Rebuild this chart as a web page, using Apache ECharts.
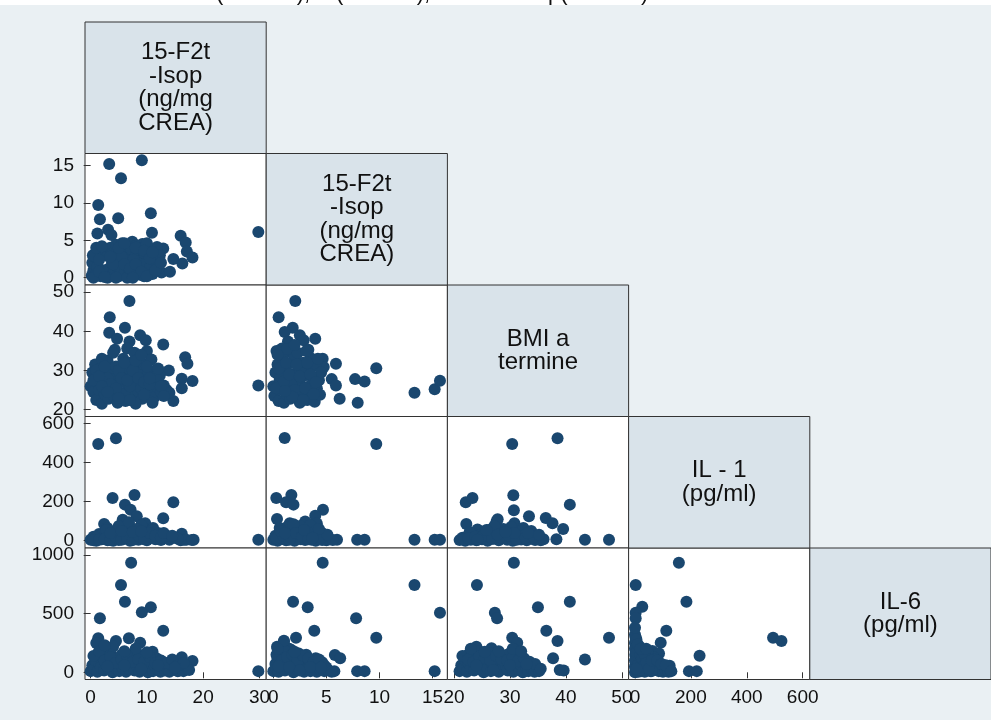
<!DOCTYPE html>
<html><head><meta charset="utf-8">
<script src="https://cdn.jsdelivr.net/npm/echarts@6/dist/echarts.min.js"></script>
<style>html,body{margin:0;padding:0;background:#eaf0f3}#c{width:991px;height:720px}</style>
</head><body><div id="c"></div>
<script>
// ---- variable labels (diagonal) ----
const varLabels = ['15-F2t\n-Isop\n(ng/mg\nCREA)', '15-F2t\n-Isop\n(ng/mg\nCREA)', 'BMI a\ntermine', 'IL - 1\n(pg/ml)', 'IL-6\n(pg/ml)'];
// ---- tick labels per variable ----
const ticksVar1 = [0, 10, 20, 30];
const ticksVar2 = [0, 5, 10, 15];
const ticksBMI = [20, 30, 40, 50];
const ticksIL1 = [0, 200, 400, 600];
const ticksIL6 = [0, 500, 1000];
// ---- axis ranges per variable (as columns / as rows) ----
const colRanges = [[-1.0, 31.2], [-0.67, 16.4], [18.82, 51.2], [-22.9, 625.4]];
const rowRanges = [null, [-0.98, 16.6], [18.27, 51.8], [-37.4, 636.9], [-61.4, 1059.7]];

// ---- scatter data: [x, y] per panel ----
const var1_var2 = [[3.3,15.2],[9.1,15.7],[5.4,13.3],[1.35,9.7],[1.65,7.8],[4.9,7.95],[10.7,8.6],[1.2,5.9],[3.1,6.4],[3.7,5.7],[10.9,6.0],[29.8,6.1],[16.0,5.6],[16.9,4.7],[17.1,3.5],[18.1,2.7],[16.3,1.9],[14.7,2.5],[12.9,3.9],[12.6,0.7],[14.1,0.8],[11.1,1.7],
[0.2,0.3],[0.5,1.0],[0.3,2.0],[0.8,2.8],[1.0,0.5],[1.2,1.5],[1.5,3.2],[1.8,0.2],[2.2,1.0],[2.5,3.8],[2.8,0.4],[3.0,2.9],[3.2,1.2],[3.5,4.0],[3.6,0.3],[3.8,2.0],[4.0,3.3],[4.2,0.8],[4.5,4.4],[4.6,1.6],[4.8,2.6],[5.0,0.2],[5.2,3.6],[5.4,1.1],[5.6,4.6],[5.8,2.2],[6.0,0.5],[6.2,3.0],[6.4,4.2],[6.6,1.4],[6.8,2.6],[7.0,0.3],[7.2,3.8],[7.4,4.8],[7.5,1.9],[7.8,0.8],[8.0,2.9],[8.2,4.3],[8.4,1.3],[8.6,3.5],[8.8,0.4],[9.0,2.3],[9.2,4.5],[9.4,1.0],[9.6,3.2],[9.8,0.6],[10.0,2.0],[10.2,4.0],[10.5,1.3],[10.8,3.0],[11.0,0.5],[11.3,2.4],[11.6,3.8],[12.0,1.2],[11.8,4.1],[6.5,0.0],[3.0,0.0],[9.5,0.2],[0.4,3.0],[1.0,4.0],[5.5,2.8],[7.6,2.4],[8.8,3.9],[10.0,4.6],[12.3,3.0],
[0.5,0.0],[1.5,0.8],[2.5,0.1],[4.0,1.8],[6.0,1.8],[7.0,1.2],[8.0,1.8],[9.0,0.8],[10.0,0.2],[11.5,1.0],[5.0,4.0],[6.0,4.6],[8.0,4.0],[3.5,2.8],[9.5,3.6],[1.5,2.4],[2.0,4.2],[4.5,0.0],[7.5,0.0],[10.5,2.6],[11.0,3.4],[12.5,2.0]];

const var1_bmi = [[6.9,47.7],[3.4,43.6],[3.3,39.6],[6.1,40.9],[4.7,38.1],[8.8,39.0],[9.8,37.7],[6.9,37.4],[4.3,35.3],[6.5,35.6],[12.9,36.6],[16.8,33.4],[17.2,31.7],[13.9,30.0],[18.1,27.3],[16.2,27.9],[16.2,25.5],[14.7,22.2],[29.8,26.2],[12.3,28.8],
[0.0,26.0],[0.3,29.5],[0.5,24.5],[0.8,31.5],[1.0,22.5],[1.2,27.5],[1.5,25.0],[1.8,30.5],[2.0,21.5],[2.2,28.5],[2.5,24.0],[2.8,26.5],[3.0,32.5],[3.2,22.8],[3.5,29.8],[3.8,25.5],[4.0,27.8],[4.2,23.3],[4.5,31.0],[4.8,21.8],[5.0,26.8],[5.2,29.0],[5.5,24.2],[5.8,33.0],[6.0,27.0],[6.2,22.2],[6.5,30.2],[6.8,25.2],[7.0,32.0],[7.2,28.2],[7.5,23.5],[7.8,34.5],[8.0,26.0],[8.2,30.8],[8.5,24.8],[8.8,33.5],[9.0,28.8],[9.2,22.8],[9.5,31.5],[9.8,26.5],[10.0,35.0],[10.2,29.5],[10.5,24.0],[10.8,32.8],[11.0,27.3],[11.3,23.2],[11.5,30.0],[11.8,25.8],[12.0,28.3],[12.5,24.5],[13.0,26.2],[13.5,25.0],[14.0,24.3],[4.0,34.5],[2.0,33.0],[6.0,24.0],[8.0,21.5],[11.0,21.8],[1.0,30.0],[0.5,27.5],[7.0,26.0],[9.0,25.5],[5.0,30.0],[3.0,28.0],
[1.5,28.5],[2.5,31.0],[3.5,26.5],[4.5,25.5],[5.5,28.0],[6.5,27.5],[7.5,30.0],[8.5,28.0],[9.5,27.0],[10.5,26.5],[11.5,28.5],[12.5,26.0],[2.0,26.0],[6.0,32.0],[8.0,32.5],[9.0,34.0],[10.0,31.0],[3.0,24.5],[5.0,23.0],[7.0,22.5],[9.5,23.8],[10.5,28.0],[12.0,30.5],[13.0,23.5]];

const var2_bmi = [[2.07,47.7],[0.5,43.6],[1.83,40.9],[1.07,39.8],[2.5,39.0],[2.86,37.7],[3.95,38.1],[1.38,37.4],[0.82,35.6],[1.6,34.8],[3.3,35.3],[4.65,33.0],[4.75,30.9],[5.9,31.7],[9.7,30.6],[7.7,27.8],[8.6,27.2],[5.5,27.8],[5.9,26.2],[6.25,22.8],[7.95,21.8],[13.3,24.3],[15.2,25.2],[15.7,27.4],
[0.0,26.0],[0.2,29.5],[0.1,23.5],[0.4,31.5],[0.5,22.2],[0.6,27.8],[0.8,25.0],[0.9,33.0],[1.0,21.8],[1.1,29.8],[1.2,24.0],[1.4,27.0],[1.5,31.8],[1.6,22.8],[1.8,29.0],[1.9,25.5],[2.0,33.5],[2.1,27.5],[2.2,23.5],[2.4,30.5],[2.5,21.8],[2.6,26.3],[2.8,32.0],[2.9,24.8],[3.0,28.8],[3.2,22.5],[3.3,30.8],[3.4,26.0],[3.5,33.2],[3.6,24.0],[3.8,28.0],[3.9,22.0],[4.0,31.2],[4.1,25.5],[4.3,27.5],[4.4,23.8],[4.5,29.5],[0.3,35.0],[1.3,35.5],[2.3,34.5],[0.7,28.5],[1.7,26.5],[2.7,29.3],[3.7,26.8],
[0.3,25.5],[1.0,27.2],[1.5,29.0],[2.0,25.0],[2.5,28.5],[3.0,25.5],[3.5,29.0],[4.0,27.0],[0.5,30.5],[1.2,32.0],[2.2,31.5],[3.2,32.0],[4.2,33.0],[1.8,23.3],[2.8,22.5],[3.8,24.0],[0.4,34.0],[1.1,24.8],[2.0,36.5],[3.1,35.0]];

const var1_il1 = [[1.35,496],[4.5,525],[3.9,219],[7.8,234],[6.1,185],[7.1,159],[8.2,125],[14.7,197],[12.9,115],[5.7,108],[2.4,86],[9.7,90],[11.1,65],[16.2,36],[29.8,5],[18.3,5],[16.6,5],[13.8,20],
[0.0,5],[0.5,20],[1.0,0],[1.5,35],[2.0,8],[2.5,45],[3.0,2],[3.5,25],[4.0,12],[4.5,50],[5.0,3],[5.5,30],[6.0,10],[6.5,55],[7.0,0],[7.5,20],[8.0,40],[8.5,5],[9.0,28],[9.5,60],[10.0,2],[10.5,15],[11.0,35],[11.5,8],[12.0,20],[12.5,3],[13.0,12],[14.0,5],[15.0,15],[16.0,2],[17.0,5],[18.0,3],[3.0,65],[5.0,75],[2.0,30],[7.0,70],[9.0,80],[4.0,0],[6.0,35],[8.0,15],[10.0,45],[12.0,40],[11.0,55],[13.5,25],[15.5,10],[1.0,15],[2.8,55],[6.8,95],[8.2,60],
[0.5,2],[1.5,5],[2.5,10],[3.5,3],[4.5,18],[5.5,5],[6.5,15],[7.5,3],[8.5,25],[9.5,8],[10.5,40],[11.5,25],[12.5,18],[13.0,40],[14.5,25],[3.5,40],[5.5,50],[7.5,45],[9.0,48]];

const var2_il1 = [[1.07,527],[9.7,496],[0.28,219],[1.7,234],[1.2,197],[1.9,185],[4.68,159],[3.95,128],[3.0,99],[0.35,111],[1.55,90],[4.1,88],[4.6,40],[6.0,5],[7.9,5],[8.6,5],[13.3,5],[15.2,5],[15.7,5],
[0.0,5],[0.2,25],[0.4,0],[0.6,40],[0.8,10],[1.0,55],[1.2,2],[1.4,30],[1.6,15],[1.8,45],[2.0,0],[2.2,20],[2.4,60],[2.6,8],[2.8,35],[3.0,3],[3.2,50],[3.4,18],[3.6,5],[3.8,30],[4.0,0],[4.2,12],[4.4,40],[4.6,3],[4.8,20],[5.0,2],[5.3,8],[5.6,4],[1.3,70],[2.5,75],[0.6,65],[3.5,80],[1.9,85],
[0.3,12],[0.9,28],[1.5,5],[2.1,40],[2.7,22],[3.3,8],[3.9,45],[4.5,15],[5.1,30],[0.7,50],[2.9,55],[4.3,60],[1.1,38],[3.7,15]];

const bmi_il1 = [[30.4,496],[38.5,525],[30.6,233],[22.1,197],[23.3,219],[40.7,185],[30.7,156],[33.4,125],[36.4,116],[37.6,90],[39.5,60],[22.2,86],[27.6,99],[27.8,110],[30.8,90],[24.2,58],[32.4,65],[43.4,5],[47.7,5],[38.3,8],
[21.0,3],[21.5,15],[22.0,0],[22.5,25],[23.0,5],[23.5,35],[24.0,2],[24.5,18],[25.0,8],[25.5,40],[26.0,0],[26.5,22],[27.0,10],[27.5,45],[28.0,2],[28.5,30],[29.0,12],[29.5,5],[30.0,38],[30.5,0],[31.0,20],[31.5,50],[32.0,6],[32.5,28],[33.0,2],[33.5,15],[34.0,35],[34.5,4],[35.0,10],[35.5,2],[36.0,8],[22.8,45],[26.2,55],[28.8,60],[33.8,50],[24.8,30],[30.2,70],[27.2,75],
[21.8,8],[22.6,12],[23.8,20],[25.2,25],[26.8,10],[28.2,18],[29.8,25],[31.2,5],[32.8,15],[34.2,20],[35.2,30],[24.2,5],[27.8,30],[30.8,40],[33.2,40],[25.8,55],[29.2,45]];

const var1_il6 = [[7.2,934],[5.4,744],[6.1,602],[10.7,554],[9.1,511],[1.65,460],[12.9,355],[1.35,290],[6.8,290],[4.5,267],[8.8,252],[3.1,199],[1.35,162],[8.0,162],[11.0,176],[16.2,128],[18.1,97],[12.4,100],[14.7,65],[29.8,10],
[0.0,10],[0.3,60],[0.6,30],[0.9,100],[1.2,5],[1.5,80],[1.8,40],[2.1,130],[2.4,15],[2.7,70],[3.0,110],[3.3,25],[3.6,55],[3.9,0],[4.2,90],[4.5,35],[4.8,120],[5.1,10],[5.4,65],[5.7,40],[6.0,100],[6.3,5],[6.6,80],[6.9,25],[7.2,130],[7.5,50],[7.8,15],[8.1,95],[8.4,35],[8.7,5],[9.0,70],[9.3,120],[9.6,20],[9.9,60],[10.2,0],[10.5,90],[10.8,30],[11.1,10],[11.4,55],[11.7,120],[12.0,20],[12.4,5],[12.8,45],[13.2,15],[13.6,30],[14.0,5],[14.5,60],[15.0,20],[15.5,8],[16.0,35],[16.5,10],[17.0,50],[17.5,20],[2.0,200],[3.5,170],[5.5,150],[7.5,140],[9.5,150],[1.0,250],[4.0,220],[8.0,200],
[0.5,140],[1.5,180],[2.5,100],[3.5,130],[4.5,80],[5.5,110],[6.5,140],[7.5,90],[8.5,110],[9.5,90],[10.5,130],[11.5,80],[12.5,100],[13.5,80],[14.5,110],[15.5,60],[16.5,80],[3.0,50],[6.0,60],[9.0,30],[12.0,60],[15.0,40],[2.5,230],[6.0,180],[10.0,170]];

const var2_il6 = [[4.65,934],[13.3,744],[1.86,602],[3.24,554],[15.7,508],[7.8,460],[3.86,355],[9.7,295],[2.14,295],[1.0,261],[0.35,218],[5.8,147],[6.3,119],[1.7,190],[3.1,150],[7.9,10],[8.6,10],[15.2,10],[5.75,10],
[0.0,10],[0.2,70],[0.3,30],[0.4,120],[0.5,5],[0.7,90],[0.8,45],[1.0,140],[1.1,15],[1.3,65],[1.4,110],[1.6,25],[1.7,85],[1.9,0],[2.0,50],[2.2,130],[2.3,20],[2.5,75],[2.6,40],[2.8,110],[2.9,5],[3.1,60],[3.2,30],[3.4,100],[3.5,10],[3.7,70],[3.8,45],[4.0,120],[4.1,5],[4.3,55],[4.4,25],[4.6,85],[4.8,10],[5.0,40],[5.2,15],[5.5,5],[0.6,170],[1.5,200],[2.4,160],[0.9,230],[1.2,180],
[0.3,150],[0.8,100],[1.3,130],[1.8,150],[2.3,100],[2.8,140],[3.3,120],[3.8,90],[4.3,110],[4.8,60],[0.5,50],[1.5,45],[2.5,15],[3.5,45],[4.5,40],[1.0,270],[0.4,200],[2.0,175]];

const bmi_il6 = [[30.7,934],[24.1,744],[40.7,602],[35.0,554],[27.3,508],[27.7,460],[36.5,355],[47.7,295],[30.4,295],[31.3,252],[38.5,267],[24.0,218],[26.7,205],[37.7,120],[43.4,110],[38.9,20],[39.6,15],[27.8,170],[30.2,170],[31.6,160],
[21.0,10],[21.3,60],[21.6,30],[22.0,100],[22.3,5],[22.6,80],[23.0,40],[23.3,130],[23.6,15],[24.0,70],[24.3,110],[24.6,25],[25.0,55],[25.3,0],[25.6,90],[26.0,35],[26.3,120],[26.6,10],[27.0,65],[27.3,40],[27.6,100],[28.0,5],[28.3,80],[28.6,25],[29.0,130],[29.3,50],[29.6,15],[30.0,95],[30.3,35],[30.6,5],[31.0,70],[31.3,120],[31.6,20],[32.0,60],[32.3,0],[32.6,90],[33.0,30],[33.3,10],[33.6,55],[34.0,20],[34.4,5],[34.8,40],[35.2,10],[22.5,150],[23.5,170],[26.5,160],[29.5,150],[31.5,140],[24.5,180],
[21.5,140],[22.5,110],[23.5,90],[24.5,140],[25.5,120],[26.5,100],[27.5,140],[28.5,110],[29.5,100],[30.5,130],[31.5,100],[32.5,120],[33.5,90],[34.5,70],[23.0,200],[25.5,175],[28.0,180],[30.5,200],[32.0,180],[24.0,60],[27.0,20],[30.0,60],[33.0,70],[35.5,30]];

const il1_il6 = [[157,934],[2.5,744],[184,602],[26,559],[2.5,508],[2.5,460],[112,355],[2.5,295],[494,295],[524,267],[92,252],[231,142],[193,10],[221,10],[124,55],[62,182],[86,160],[84,90],
[0,0],[2,40],[4,90],[1,150],[3,200],[0,250],[6,20],[8,60],[10,120],[12,5],[14,80],[16,170],[18,30],[20,100],[22,10],[25,60],[28,140],[30,20],[32,90],[35,5],[38,50],[40,120],[42,15],[45,70],[48,35],[50,100],[55,10],[60,50],[65,130],[70,20],[75,80],[80,40],[85,10],[90,60],[95,25],[100,5],[105,45],[110,15],[115,30],[120,5],[125,20],[5,130],[15,220],[0,320],[30,190],[45,160],[60,10],[70,110],
[0,50],[0,100],[0,200],[5,170],[10,60],[15,20],[20,150],[25,120],[30,50],[35,150],[40,80],[50,30],[60,100],[80,100],[95,70],[110,60],[5,280],[10,240],[20,200],[40,200],[0,380],[5,30],[130,10]];

const colTicks = [ticksVar1, ticksVar2, ticksBMI, ticksIL1];
const rowTicks = [null, ticksVar2, ticksBMI, ticksIL1, ticksIL6];
const panels = [
  {r:1, c:0, data: var1_var2},
  {r:2, c:0, data: var1_bmi}, {r:2, c:1, data: var2_bmi},
  {r:3, c:0, data: var1_il1}, {r:3, c:1, data: var2_il1}, {r:3, c:2, data: bmi_il1},
  {r:4, c:0, data: var1_il6}, {r:4, c:1, data: var2_il6}, {r:4, c:2, data: bmi_il6}, {r:4, c:3, data: il1_il6}
];

// ---- layout ----
const X0 = 85, CW = 181.2, Y0 = 22, CH = 131.5;
const FONT = 'Arial, "Liberation Sans", sans-serif';
const BG = '#eaf0f3', DIAG = '#d9e3ea', MARK = '#1a476f', LINE = '#333333';

const grids = [], xAxes = [], yAxes = [], series = [];
panels.forEach((p, i) => {
  grids.push({left: X0 + p.c * CW, top: Y0 + p.r * CH, width: CW, height: CH,
    show: true, backgroundColor: '#ffffff', borderColor: LINE, borderWidth: 1});
  const bottom = p.r === 4, left = p.c === 0;
  xAxes.push({type: 'value', gridIndex: i, min: colRanges[p.c][0], max: colRanges[p.c][1],
    show: bottom, axisLine: {show: false}, splitLine: {show: false},
    axisTick: {show: true, length: 6, lineStyle: {color: LINE}, customValues: colTicks[p.c]},
    axisLabel: {show: true, margin: 9, fontSize: 19, fontFamily: FONT, color: '#111',
      customValues: colTicks[p.c], formatter: v => String(v)}});
  yAxes.push({type: 'value', gridIndex: i, min: rowRanges[p.r][0], max: rowRanges[p.r][1],
    show: left, axisLine: {show: false}, splitLine: {show: false},
    axisTick: {show: true, length: 7, lineStyle: {color: LINE}, customValues: rowTicks[p.r]},
    axisLabel: {show: true, margin: 11, fontSize: 19, fontFamily: FONT, color: '#111',
      customValues: rowTicks[p.r], formatter: v => String(v)}});
  series.push({type: 'scatter', xAxisIndex: i, yAxisIndex: i, data: p.data, symbolSize: 12,
    itemStyle: {color: MARK, opacity: 1}, clip: false, silent: true});
});

const graphics = [
  {type: 'rect', shape: {x: 0, y: 0, width: 991, height: 5}, style: {fill: '#ffffff'}, z: -1},
  {type: 'text', style: {text: '(            ),', x: 216, y: 5, fontSize: 22, fontFamily: FONT, fill: '#111', verticalAlign: 'bottom'}},
  {type: 'text', style: {text: '(            ),', x: 336, y: 5, fontSize: 22, fontFamily: FONT, fill: '#111', verticalAlign: 'bottom'}},
  {type: 'text', style: {text: 'p(            )', x: 548, y: 5, fontSize: 22, fontFamily: FONT, fill: '#111', verticalAlign: 'bottom'}}
];
varLabels.forEach((t, k) => {
  graphics.push({type: 'rect', shape: {x: X0 + k * CW, y: Y0 + k * CH, width: CW, height: CH},
    style: {fill: DIAG, stroke: LINE, lineWidth: 1}});
  graphics.push({type: 'text', style: {text: t, x: X0 + k * CW + CW / 2, y: Y0 + k * CH + CH / 2,
    align: 'center', verticalAlign: 'middle', fontSize: 24, lineHeight: 23.5, fontFamily: FONT, fill: '#111'}});
});

const chart = echarts.init(document.getElementById('c'), null, {renderer: 'canvas'});
chart.setOption({
  backgroundColor: BG, animation: false,
  grid: grids, xAxis: xAxes, yAxis: yAxes, series: series, graphic: graphics
});
</script></body></html>
